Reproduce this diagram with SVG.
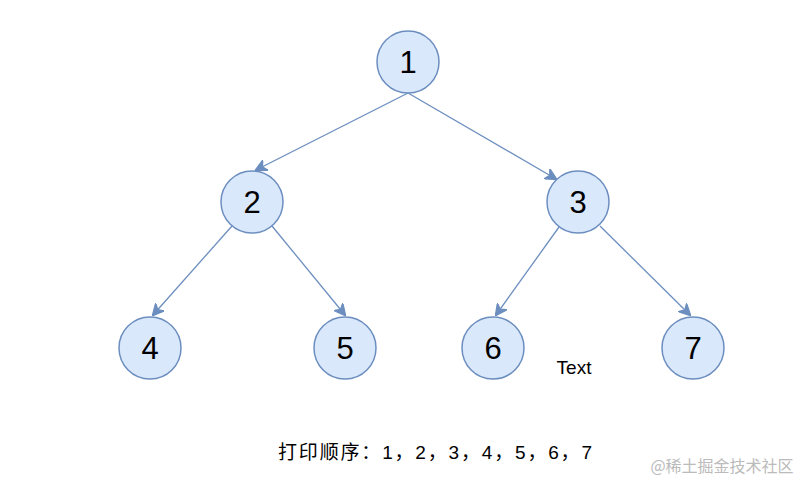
<svg xmlns="http://www.w3.org/2000/svg" width="809" height="491" viewBox="0 0 809 491">
<style>
.n circle{fill:#dae8fc;stroke:#6c8ebf;stroke-width:1.5}
.n text{font-family:"Liberation Sans",Arial,sans-serif;font-size:31px;fill:#000;text-anchor:middle;dominant-baseline:central}
.e line{stroke:#6c8ebf;stroke-width:1.3}
.t{font-family:"Liberation Sans","Noto Sans CJK SC",sans-serif;fill:#000}
</style>
<defs>
<marker id="a" viewBox="0 0 10 10" refX="9" refY="5" markerWidth="12" markerHeight="12" markerUnits="userSpaceOnUse" orient="auto">
<path d="M0,0 L10,5 L0,10 L3,5 Z" fill="#6c8ebf" stroke="#6c8ebf"/>
</marker>
</defs>
<rect width="809" height="491" fill="#fff"/>
<g id="edges" class="e">
<line x1="408" y1="93" x2="256" y2="170" marker-end="url(#a)"/>
<line x1="408" y1="93" x2="556" y2="179" marker-end="url(#a)"/>
<line x1="232" y1="226" x2="153" y2="315" marker-end="url(#a)"/>
<line x1="272" y1="226" x2="345" y2="315" marker-end="url(#a)"/>
<line x1="559" y1="227" x2="496" y2="315" marker-end="url(#a)"/>
<line x1="600" y1="226" x2="690" y2="315" marker-end="url(#a)"/>
</g>
<g id="n1" class="n"><circle cx="408" cy="62" r="31"/><text x="408" y="62">1</text></g>
<g id="n2" class="n"><circle cx="252" cy="202" r="31"/><text x="252" y="202">2</text></g>
<g id="n3" class="n"><circle cx="578" cy="202" r="31"/><text x="578" y="202">3</text></g>
<g id="n4" class="n"><circle cx="150" cy="348" r="31"/><text x="150" y="348">4</text></g>
<g id="n5" class="n"><circle cx="345" cy="348" r="31"/><text x="345" y="348">5</text></g>
<g id="n6" class="n"><circle cx="493" cy="348" r="31"/><text x="493" y="348">6</text></g>
<g id="n7" class="n"><circle cx="693" cy="348" r="31"/><text x="693" y="348">7</text></g>
<text class="t" x="574" y="374" font-size="19" text-anchor="middle">Text</text>
<text class="t" x="278" y="459" font-size="19" textLength="314" lengthAdjust="spacing">打印顺序：1，2，3，4，5，6，7</text>
<text x="722" y="472" font-size="16" text-anchor="middle" fill="#bbbbbb" font-family="'Noto Sans CJK SC',sans-serif">@稀土掘金技术社区</text>
</svg>
